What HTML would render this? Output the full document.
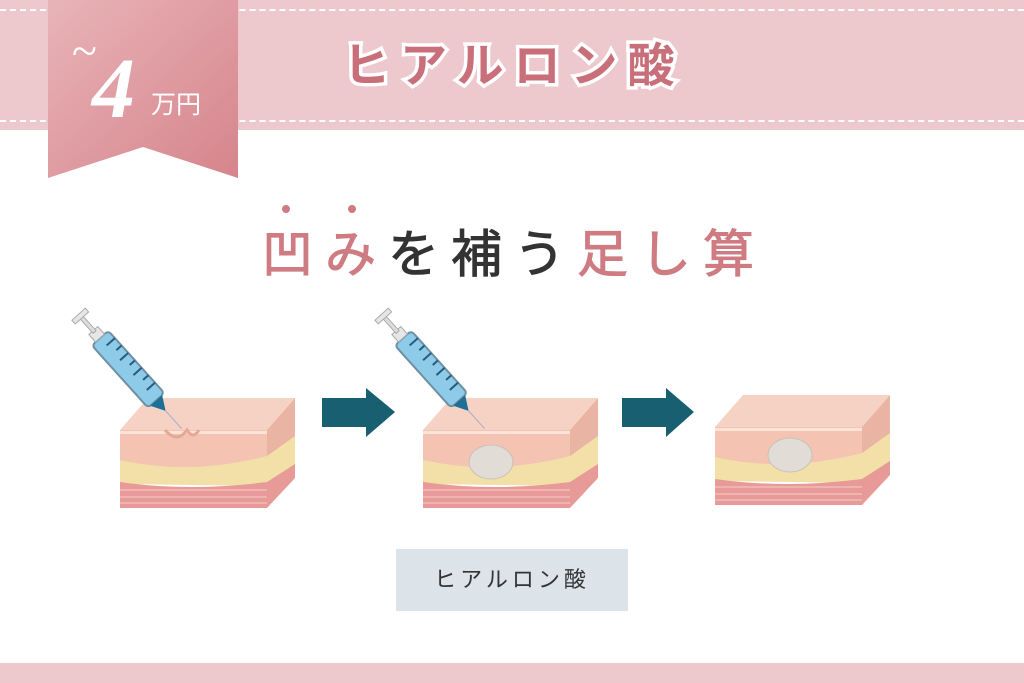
<!DOCTYPE html>
<html><head><meta charset="utf-8"><style>
body{margin:0;width:1024px;height:683px;background:#fff;position:relative;overflow:hidden;font-family:"Liberation Sans","Noto Sans CJK JP",sans-serif}
.band{position:absolute;left:0;top:0;width:1024px;height:130px;background:#edc8cc}
.dash{position:absolute;left:0;width:1024px;border-top:2px dashed #fff}
.bottom{position:absolute;left:0;top:663px;width:1024px;height:20px;background:#edc8cc}
.h{position:absolute;left:343px;top:36px;width:360px;font-size:47px;font-weight:bold;color:#c96f79;letter-spacing:10px;-webkit-text-stroke:7px #fff;paint-order:stroke fill;line-height:60px;white-space:nowrap}
.t{position:absolute;left:262px;top:220px;font-size:51px;letter-spacing:12px;line-height:70px;color:#333;white-space:nowrap;-webkit-text-stroke:1px currentColor}
.p{color:#cf7b82}
.label{position:absolute;left:396px;top:549px;width:232px;height:62px;background:#dce4ea;color:#333;font-size:22px;letter-spacing:4px;text-align:center;line-height:62px}
</style></head><body>
<div class="band"></div>
<div class="dash" style="top:9px"></div>
<div class="dash" style="top:120px"></div>
<div class="bottom"></div>
<svg style="position:absolute;left:0;top:0" width="1024" height="683">
<defs>
<linearGradient id="rg" x1="0" y1="0" x2="1" y2="1"><stop offset="0" stop-color="#e8b4b8"/><stop offset="1" stop-color="#d6848c"/></linearGradient>
<g id="skin">
<polygon points="0,32 28,0 175,0 147,32" fill="#f6d2c4"/>
<polygon points="147,32 175,0 175,62 147,110" fill="#e9b4a4"/>
<rect x="0" y="32" width="147" height="38" fill="#f4c3b2"/>
<rect x="0" y="33" width="147" height="3" fill="#fbe3d8"/>
<path d="M0,62 Q70,78 147,58 L175,38 L175,70 L147,88 L0,86Z" fill="#f2e0a8"/>
<path d="M0,84 Q70,94 147,84 L175,66 L175,80 L147,110 L0,110Z" fill="#e79a98"/>
<path d="M0,92 H147 M0,99 H147 M0,105 H147" stroke="#f4bcb8" stroke-width="1.5"/>
</g>
<g id="syr">
<rect x="0" y="-11" width="84" height="22" rx="4" fill="#8ecbe8" stroke="#6f8fa3" stroke-width="2"/>
<rect x="-10" y="-6" width="10" height="12" fill="#e6e6e6" stroke="#aaa"/>
<rect x="-28" y="-2" width="20" height="4" fill="#ddd" stroke="#aaa"/>
<rect x="-32" y="-9" width="5" height="18" fill="#e6e6e6" stroke="#aaa"/>
<polygon points="84,-8 98,0 84,8" fill="#1d6f95"/>
<line x1="98" y1="0" x2="122" y2="0" stroke="#aac" stroke-width="1"/>
<path d="M10,-11V0M20,-11V-4M30,-11V0M40,-11V-4M50,-11V0M60,-11V-4M70,-11V0" stroke="#245c80" stroke-width="2"/>
</g>
</defs>
<polygon points="48,0 238,0 238,178 143,147 48,178" fill="url(#rg)"/>
<text x="72" y="66" font-family="Liberation Serif,serif" font-size="46" fill="#fff">~</text>
<text x="92" y="117" font-family="Liberation Serif,serif" font-style="italic" font-weight="bold" font-size="86" fill="#fff">4</text>
<text x="151" y="113" font-family="Noto Sans CJK JP,sans-serif" font-size="25" fill="#fff">万円</text>
<circle cx="286" cy="209" r="4" fill="#cf7b82"/><circle cx="352" cy="209" r="4" fill="#cf7b82"/>
<use href="#skin" x="120" y="398"/>
<use href="#skin" x="423" y="398"/>
<use href="#skin" x="715" y="395"/>
<path d="M165,430 q12,14 22,0 q6,10 12,0" stroke="#e7a796" stroke-width="3" fill="none"/>
<ellipse cx="491" cy="462" rx="22" ry="17" fill="#e2dcd6" stroke="#c9c0b9"/>
<ellipse cx="790" cy="455" rx="22" ry="17" fill="#e2dcd6" stroke="#c9c0b9"/>
<use href="#syr" transform="translate(100,338) rotate(48)"/>
<use href="#syr" transform="translate(403,338) rotate(48)"/>
<polygon points="322,398 366,398 366,388 395,412 366,437 366,427 322,427" fill="#185f72"/>
<polygon points="622,398 666,398 666,388 694,412 666,437 666,427 622,427" fill="#185f72"/>
</svg>
<div class="h">ヒアルロン酸</div>
<div class="t"><span class="p">凹み</span>を補う<span class="p">足し算</span></div>
<div class="label">ヒアルロン酸</div>
</body></html>
